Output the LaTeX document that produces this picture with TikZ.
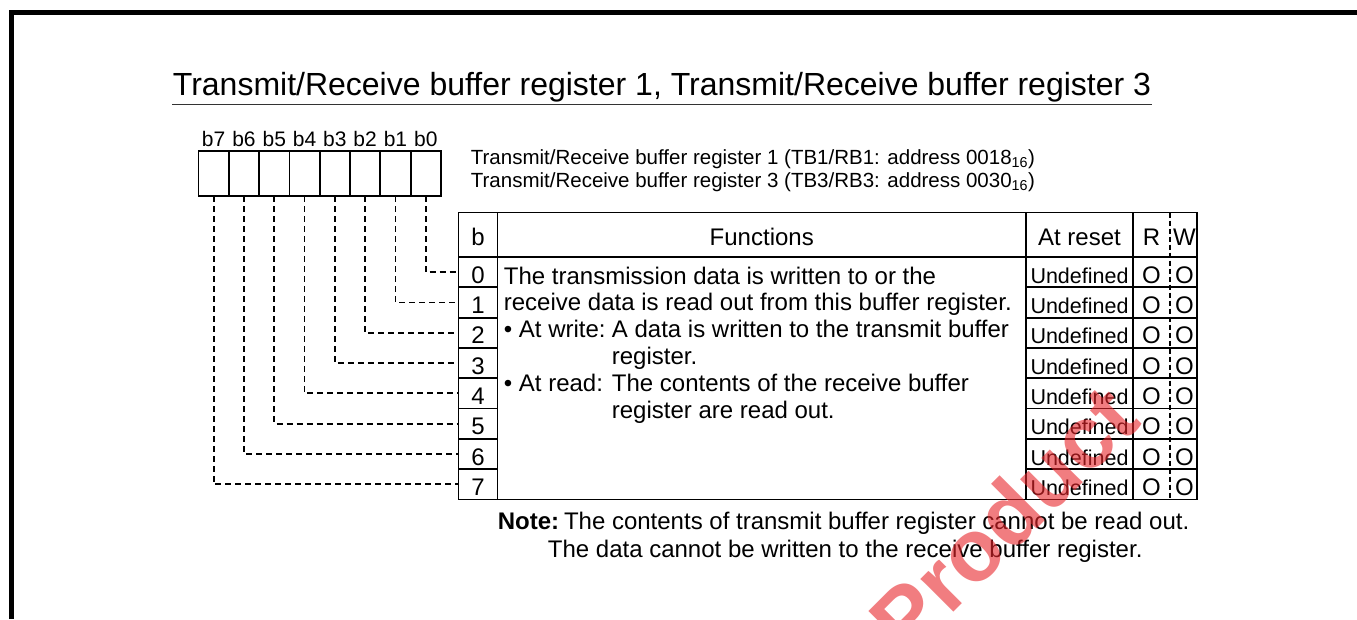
\documentclass[tikz,border=0pt]{standalone}
\usepackage{fontspec}
\setmainfont{Liberation Sans}
\usetikzlibrary{calc,positioning}
\definecolor{stampred}{HTML}{E8262B}
\newcommand{\tabfont}{\fontsize{24}{26.8}\selectfont}
\newcommand{\undeffont}{\fontsize{21.5}{26.8}\selectfont}

\begin{document}
\begin{tikzpicture}[
    x=1pt, y=-1pt,
    line width=1.8pt,
    frame/.style={line width=5pt, line join=miter},
    bitcell/.style={draw, minimum width=30.3pt, minimum height=45.3pt, inner sep=0pt, outer sep=0pt},
    bitname/.style={font=\fontsize{21}{21}\selectfont, anchor=base, inner sep=0pt},
    addrtext/.style={font=\fontsize{20.5}{20.5}\selectfont, anchor=base west, inner sep=0pt},
    notetext/.style={font=\tabfont, anchor=base west, inner sep=0pt},
    hcell/.style={draw, font=\tabfont, inner sep=0pt, outer sep=0pt,
                  minimum height=44.5pt, text height=33.2pt, text depth=11.3pt},
    hlabel/.style={hcell, draw=none},
    rcell/.style={draw, font=\tabfont, inner sep=0pt, outer sep=0pt,
                  minimum height=30.3pt, text height=26.3pt, text depth=4pt},
    rwmark/.style={rcell, draw=none},
    tap/.style={dash pattern=on 6pt off 4pt},
    rwsplit/.style={dash pattern=on 5pt off 3pt, line width=1.3pt},
    stamp/.style={font=\fontsize{88}{88}\selectfont\bfseries, text=stampred,
                  text opacity=0.6, rotate=45, anchor=base west, inner sep=0pt},
]
\useasboundingbox (0,0) rectangle (1357,619);

% ── Page frame ──
\draw[frame] (11.7,619) -- (11.7,12.5) -- (1357,12.5);

% ── Title ──
\node[font=\fontsize{32}{32}\selectfont, anchor=base west, inner sep=0pt] (title) at (172,95)
    {Transmit/Receive buffer register 1, Transmit/Receive buffer register 3};
\draw[line width=1.3pt, black!80] ([yshift=-9.3pt]title.base west) -- ([yshift=-9.3pt]title.base east);

% ── Bit boxes b7..b0 ──
\foreach \i in {0,...,7} {
    \pgfmathsetmacro{\bx}{213.65 + (7-\i)*30.3}
    \node[bitcell] (bit\i) at (\bx,173.35) {};
    \node[bitname] (bn\i) at ([yshift=4.3pt]bit\i.north) {b\i};
}

% ── Register names ──
\node[addrtext] (addr1) at (470,164)
    {Transmit/Receive buffer register 1 (TB1/RB1: address 0018\textsubscript{16})};
\node[addrtext] (addr3) at (470,187)
    {Transmit/Receive buffer register 3 (TB3/RB3: address 0030\textsubscript{16})};

% ── Table header ──
\node[hcell, minimum width=39pt]    (hb)   at (478,234.75)    {b};
\node[hcell, minimum width=528.5pt] (hfun) at (761.75,234.75) {Functions};
\node[hcell, minimum width=107pt]   (hres) at (1079.5,234.75) {At reset};
\node[hcell, minimum width=64pt]    (hrw)  at (1165,234.75)   {};
\node[hlabel] (hr) at (1151.5,234.75) {R};
\node[hlabel] (hw) at (1184.5,234.75) {W};

% ── Table rows ──
\foreach \i in {0,...,7} {
    \pgfmathsetmacro{\ry}{257 + (\i+0.5)*30.3}
    \node[rcell, minimum width=39pt] (num\i) at (478,\ry) {\i};
    \node[rcell, minimum width=107pt, font=\undeffont] (res\i) at (1079.5,\ry) {Undefined};
    \node[rcell, minimum width=64pt] (rw\i) at (1165,\ry) {};
    \node[rwmark] (rd\i) at (1151.5,\ry) {O};
    \node[rwmark] (wr\i) at (1184.5,\ry) {O};
}
\node[draw, inner sep=0pt, outer sep=0pt, minimum width=528.5pt, minimum height=242.4pt]
    (fbody) at (761.75,378.2) {};
\node[font=\tabfont, align=left, anchor=north west, inner sep=0pt] (fdesc) at (503,265.8)
    {The transmission data is written to or the\\
     receive data is read out from this buffer register.\\
     \makebox[4.5em][l]{\textbullet{} At write:}A data is written to the transmit buffer\\
     \hspace*{4.5em}register.\\
     \makebox[4.5em][l]{\textbullet{} At read:}The contents of the receive buffer\\
     \hspace*{4.5em}register are read out.};

% R / W split
\coordinate (rwcut) at (1170,0);
\draw[rwsplit] (hrw.north -| rwcut) -- (rw7.south -| rwcut);

% ── Bit to row taps ──
\foreach \i in {0,...,7} {
    \draw[tap] (bit\i.south) |- (num\i.west);
}

% ── Note ──
\node[notetext] (note1) at (497,529)
    {\textbf{Note:}\hspace{0.2em}The contents of transmit buffer register cannot be read out.};
\node[notetext] (note2) at (547,557)
    {The data cannot be written to the receive buffer register.};

% ── Stamp ──
\begin{scope}
    \clip (0,0) rectangle (1357,619);
    \node[stamp] (wm) at (907,659) {Product};
\end{scope}

\end{tikzpicture}
\end{document}
